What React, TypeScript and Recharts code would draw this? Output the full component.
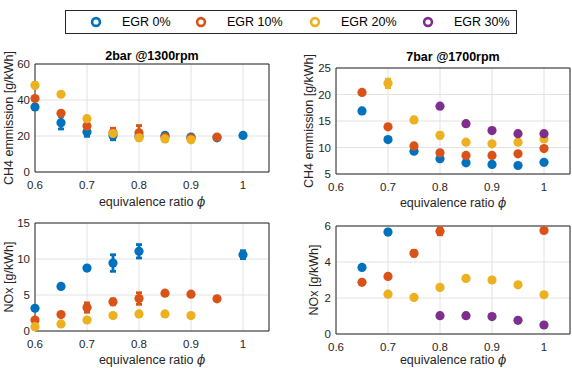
import React from "react";
import { ScatterChart, Scatter, XAxis, YAxis, CartesianGrid, ErrorBar, ReferenceArea, Label } from "recharts";

const phi = [0.6, 0.65, 0.7, 0.75, 0.8, 0.85, 0.9, 0.95, 1.0];
const xTicks = [0.6, 0.7, 0.8, 0.9, 1];
const egrNames = ["EGR 0%", "EGR 10%", "EGR 20%", "EGR 30%"];
const egrColors = ["#0072BD", "#D95319", "#EDB120", "#7E2F8E"];

// CH4, 2bar @1300rpm
const ch4LowEgr0 = [36.1, 27.4, 22.2, 20.3, 19.7, 20.3, 19.4, 19.0, 20.3];
const ch4LowEgr10 = [40.8, 32.6, 25.5, 21.8, 21.8, 19.4, 18.8, 19.4, null];
const ch4LowEgr20 = [48.2, 43.2, 29.6, 21.4, 19.0, 18.4, 17.9, null, null];
const ch4LowErr0 = [1.2, 3.5, 2.4, 2.4, 0.5, 0.5, 0.5, 0.5, 0.3];
const ch4LowErr10 = [0.5, 0.5, 2.8, 2.5, 4.0, 0.5, 0.5, 0.3, null];
const ch4LowErr20 = [1.5, 0.3, 0.5, 0.5, 0.5, 0.5, 0.5, null, null];

// CH4, 7bar @1700rpm
const ch4HighEgr0 = [null, 16.9, 11.5, 9.3, 7.9, 7.1, 6.8, 6.6, 7.2];
const ch4HighEgr10 = [null, 20.4, 13.9, 10.3, 9.0, 8.5, 8.5, 8.8, 9.8];
const ch4HighEgr20 = [null, null, 22.1, 15.2, 12.3, 11.0, 10.7, 11.0, 11.6];
const ch4HighEgr30 = [null, null, null, null, 17.8, 14.5, 13.2, 12.6, 12.6];
const ch4HighErr0 = [null, 0.2, 0.2, 0.2, 0.2, 0.2, 0.2, 0.2, 0.2];
const ch4HighErr10 = [null, 0.2, 0.2, 0.3, 0.2, 0.2, 0.2, 0.2, 0.2];
const ch4HighErr20 = [null, null, 0.8, 0.5, 0.5, 0.2, 0.2, 0.2, 0.3];
const ch4HighErr30 = [null, null, null, null, 0.2, 0.2, 0.2, 0.2, 0.2];

// NOx, 2bar @1300rpm
const noxLowEgr0 = [3.16, 6.19, 8.74, 9.44, 11.07, null, null, null, 10.6];
const noxLowEgr10 = [1.53, 2.28, 3.26, 4.05, 4.51, 5.26, 5.12, 4.47, null];
const noxLowEgr20 = [0.6, 0.98, 1.53, 2.14, 2.37, 2.37, 2.14, null, null];
const noxLowErr0 = [0.2, 0.1, 0.2, 1.15, 0.93, null, null, null, 0.55];
const noxLowErr10 = [0.2, 0.1, 0.65, 0.4, 0.8, 0.2, 0.1, 0.1, null];
const noxLowErr20 = [0.3, 0.1, 0.1, 0.1, 0.1, 0.1, 0.2, null, null];

// NOx, 7bar @1700rpm
const noxHighEgr0 = [null, 3.7, 5.66, null, null, null, null, null, null];
const noxHighEgr10 = [null, 2.87, 3.2, 4.48, 5.71, null, null, null, 5.75];
const noxHighEgr20 = [null, null, 2.21, 2.03, 2.59, 3.09, 3.0, 2.73, 2.18];
const noxHighEgr30 = [null, null, null, null, 1.02, 1.02, 0.97, 0.76, 0.5];
const noxHighErr0 = [null, 0.1, 0.12, null, null, null, null, null, null];
const noxHighErr10 = [null, 0.05, 0.1, 0.15, 0.2, null, null, null, 0.05];
const noxHighErr20 = [null, null, 0.05, 0.05, 0.05, 0.05, 0.05, 0.05, 0.05];
const noxHighErr30 = [null, null, null, null, 0.05, 0.05, 0.05, 0.05, 0.05];

const FONT = "'Liberation Sans', Arial, Helvetica, sans-serif";
const INK = "#262626";

type Box = { x0: number; x1: number; y0: number; y1: number };
type PanelProps = {
  left: number;
  top: number;
  width: number;
  height: number;
  plot: Box;
  yDomain: [number, number];
  yTicks: number[];
  values: (number | null)[][];
  errors: (number | null)[][];
  title?: string;
  yLabel: string;
  yLabelX: number;
  xLabelY: number;
  titleY?: number;
};

function toPoints(values: (number | null)[], errors: (number | null)[]) {
  return phi
    .map((x, i) => ({ x, y: values[i], err: errors[i] ?? 0 }))
    .filter((p) => p.y !== null && p.y !== undefined);
}

function Panel(p: PanelProps) {
  const axisH = 20;
  const margin = {
    top: p.plot.y0 - p.top,
    right: p.left + p.width - p.plot.x1,
    bottom: p.top + p.height - p.plot.y1 - axisH,
    left: 0,
  };
  const cx = (p.plot.x0 + p.plot.x1) / 2 - p.left;
  const cy = (p.plot.y0 + p.plot.y1) / 2 - p.top;
  const yl = p.yLabelX - p.left;

  const texts = () => (
    <g fontFamily={FONT} fill={INK}>
      {p.title && (
        <text x={cx} y={(p.titleY as number) - p.top} textAnchor="middle" dominantBaseline="central" fontSize={12.5} fontWeight="bold" fill="#000">
          {p.title}
        </text>
      )}
      <text x={cx} y={p.xLabelY - p.top} textAnchor="middle" dominantBaseline="central" fontSize={12.5}>
        equivalence ratio <tspan fontStyle="italic" fontFamily="'DejaVu Serif', serif" fontSize={12}>ϕ</tspan>
      </text>
      <text x={yl} y={cy} textAnchor="middle" dominantBaseline="central" fontSize={12.5} transform={`rotate(-90, ${yl}, ${cy})`}>
        {p.yLabel}
      </text>
    </g>
  );

  return (
    <div style={{ position: "absolute", left: p.left, top: p.top }}>
      <ScatterChart width={p.width} height={p.height} margin={margin}>
        <CartesianGrid stroke="#e2e2e2" />
        <XAxis
          type="number"
          dataKey="x"
          domain={[0.6, 1.05]}
          ticks={xTicks}
          height={axisH}
          axisLine={false}
          tickLine={false}
          tickSize={6}
          tickMargin={3}
          tick={{ fontSize: 11.5, fill: INK, fontFamily: FONT }}
        >
          <Label content={texts} />
        </XAxis>
        <YAxis
          type="number"
          dataKey="y"
          domain={p.yDomain}
          ticks={p.yTicks}
          width={p.plot.x0 - p.left}
          axisLine={false}
          tickLine={false}
          tickSize={4}
          tickMargin={1}
          tick={{ fontSize: 11.5, fill: INK, fontFamily: FONT }}
        />
        <ReferenceArea x1={0.6} x2={1.05} y1={p.yDomain[0]} y2={p.yDomain[1]} fill="none" fillOpacity={0} stroke={INK} strokeWidth={1} />
        {p.values.map((vals, i) => {
          const color = egrColors[i];
          return (
            <Scatter
              key={egrNames[i]}
              name={egrNames[i]}
              data={toPoints(vals, p.errors[i])}
              fill={color}
              isAnimationActive={false}
              shape={(s: any) => <circle cx={s.cx} cy={s.cy} r={4.6} fill={color} />}
            >
              <ErrorBar dataKey="err" direction="y" width={3} strokeWidth={2.8} stroke={color} />
            </Scatter>
          );
        })}
      </ScatterChart>
    </div>
  );
}

const legendRingX = [95, 200, 314, 427];

function Legend() {
  return (
    <div
      style={{
        position: "absolute",
        left: 65,
        top: 10,
        width: 452,
        height: 24,
        border: `1px solid ${INK}`,
        boxSizing: "border-box",
        background: "#fff",
        fontFamily: FONT,
      }}
    >
      {egrNames.map((n, i) => (
        <React.Fragment key={n}>
          <svg width={12} height={12} style={{ position: "absolute", left: legendRingX[i] - 65 - 6, top: 5 }}>
            <circle cx={6} cy={6} r={3.9} fill="none" stroke={egrColors[i]} strokeWidth={2.6} />
          </svg>
          <span style={{ position: "absolute", left: legendRingX[i] - 65 + 26, top: 0, lineHeight: "22px", fontSize: 12.5, color: "#000", whiteSpace: "nowrap" }}>
            {n}
          </span>
        </React.Fragment>
      ))}
    </div>
  );
}

export default function App() {
  return (
    <div style={{ position: "absolute", left: 0, top: 0, width: 572, height: 368, background: "#fff" }}>
      <Legend />
      <Panel
        left={0}
        top={40}
        width={290}
        height={175}
        plot={{ x0: 35, x1: 269, y0: 64, y1: 172 }}
        yDomain={[0, 60]}
        yTicks={[0, 20, 40, 60]}
        values={[ch4LowEgr0, ch4LowEgr10, ch4LowEgr20]}
        errors={[ch4LowErr0, ch4LowErr10, ch4LowErr20]}
        title="2bar @1300rpm"
        titleY={56}
        yLabel="CH4 emmission [g/kWh]"
        yLabelX={8.5}
        xLabelY={202}
      />
      <Panel
        left={290}
        top={40}
        width={282}
        height={175}
        plot={{ x0: 336, x1: 570, y0: 68, y1: 174 }}
        yDomain={[5, 25]}
        yTicks={[5, 10, 15, 20, 25]}
        values={[ch4HighEgr0, ch4HighEgr10, ch4HighEgr20, ch4HighEgr30]}
        errors={[ch4HighErr0, ch4HighErr10, ch4HighErr20, ch4HighErr30]}
        title="7bar @1700rpm"
        titleY={57}
        yLabel="CH4 emmission [g/kWh]"
        yLabelX={309}
        xLabelY={203}
      />
      <Panel
        left={0}
        top={215}
        width={290}
        height={153}
        plot={{ x0: 35, x1: 269, y0: 223, y1: 331 }}
        yDomain={[0, 15]}
        yTicks={[0, 5, 10, 15]}
        values={[noxLowEgr0, noxLowEgr10, noxLowEgr20]}
        errors={[noxLowErr0, noxLowErr10, noxLowErr20]}
        yLabel="NOx [g/kWh]"
        yLabelX={8.5}
        xLabelY={360}
      />
      <Panel
        left={290}
        top={215}
        width={282}
        height={153}
        plot={{ x0: 336, x1: 570, y0: 226, y1: 334 }}
        yDomain={[0, 6]}
        yTicks={[0, 2, 4, 6]}
        values={[noxHighEgr0, noxHighEgr10, noxHighEgr20, noxHighEgr30]}
        errors={[noxHighErr0, noxHighErr10, noxHighErr20, noxHighErr30]}
        yLabel="NOx [g/kWh]"
        yLabelX={314}
        xLabelY={360}
      />
    </div>
  );
}
